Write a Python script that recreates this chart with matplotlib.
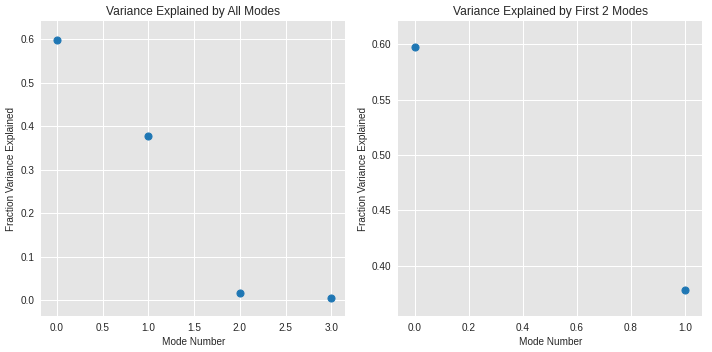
import matplotlib.pyplot as plt

plt.rcParams["font.family"] = ["Liberation Sans", "DejaVu Sans"]

# fraction of variance explained by each mode
modes_all = [0, 1, 2, 3]
frac_all = [0.598, 0.379, 0.018, 0.005]
modes_first = [0, 1]
frac_first = [0.598, 0.378]

txt = "#262626"


def style_axes(ax):
    ax.set_facecolor("#e5e5e5")
    ax.grid(True, color="white", linewidth=1.0)
    ax.set_axisbelow(True)
    for s in ax.spines.values():
        s.set_visible(False)
    ax.tick_params(length=0, labelsize=10, colors=txt, pad=7)


fig, (ax1, ax2) = plt.subplots(1, 2, figsize=(712 / 72, 352 / 72), dpi=72)
fig.subplots_adjust(left=0.058, right=0.986, bottom=0.102, top=0.94, wspace=0.175)

style_axes(ax1)
ax1.scatter(modes_all, frac_all, s=50, color="#1f77b4", zorder=3)
ax1.set_xlim(-0.17, 3.15)
ax1.set_ylim(-0.036, 0.642)
ax1.set_title("Variance Explained by All Modes", fontsize=12, color=txt)
ax1.set_xlabel("Mode Number", fontsize=10, color=txt)
ax1.set_ylabel("Fraction Variance Explained", fontsize=10, color=txt)

style_axes(ax2)
ax2.scatter(modes_first, frac_first, s=50, color="#1f77b4", zorder=3)
ax2.set_xlim(-0.061, 1.063)
ax2.set_ylim(0.3545, 0.621)
ax2.set_yticks([0.40, 0.45, 0.50, 0.55, 0.60])
ax2.yaxis.set_major_formatter("{x:.2f}")
ax2.set_title("Variance Explained by First 2 Modes", fontsize=12, color=txt)
ax2.set_xlabel("Mode Number", fontsize=10, color=txt)
ax2.set_ylabel("Fraction Variance Explained", fontsize=10, color=txt)

plt.savefig("out.png", dpi=72)
